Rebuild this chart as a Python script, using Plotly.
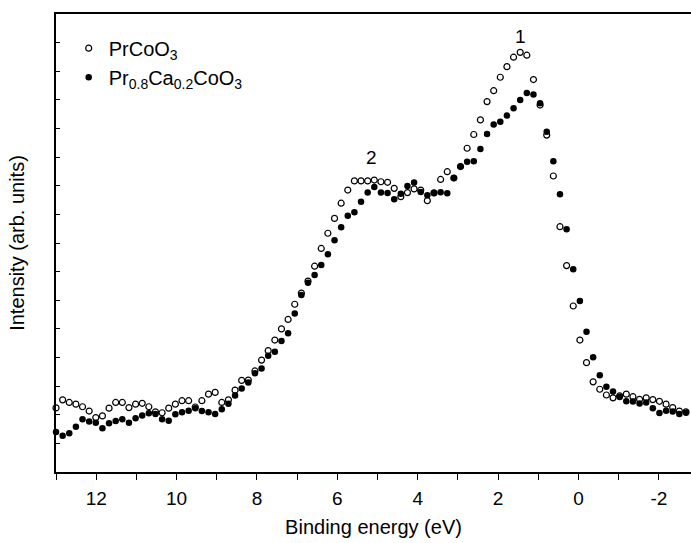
import plotly.graph_objects as go

# Binding energy grid (eV)
energy = [13.000, 12.835, 12.670, 12.505, 12.340, 12.175, 12.010, 11.845, 11.680, 11.515,
          11.350, 11.185, 11.020, 10.855, 10.690, 10.525, 10.360, 10.195, 10.030, 9.865,
          9.700, 9.535, 9.370, 9.205, 9.040, 8.875, 8.710, 8.545, 8.380, 8.215,
          8.050, 7.885, 7.720, 7.555, 7.390, 7.225, 7.060, 6.895, 6.730, 6.565,
          6.400, 6.235, 6.070, 5.905, 5.740, 5.575, 5.410, 5.245, 5.080, 4.915,
          4.750, 4.585, 4.420, 4.255, 4.090, 3.925, 3.760, 3.595, 3.430, 3.265,
          3.100, 2.935, 2.770, 2.605, 2.440, 2.275, 2.110, 1.945, 1.780, 1.615,
          1.450, 1.285, 1.120, 0.955, 0.790, 0.625, 0.460, 0.295, 0.130, -0.035,
          -0.200, -0.365, -0.530, -0.695, -0.860, -1.025, -1.190, -1.355, -1.520, -1.685,
          -1.850, -2.015, -2.180, -2.345, -2.510, -2.675]

# PrCoO3 (open circles), arb. units
prcoo3 = [2.24, 2.52, 2.43, 2.37, 2.28, 2.13, 1.90, 1.96, 2.23, 2.43,
          2.43, 2.25, 2.37, 2.40, 2.28, 2.10, 2.07, 2.23, 2.37, 2.49,
          2.49, 2.27, 2.49, 2.72, 2.78, 2.43, 2.52, 2.86, 3.20, 3.21,
          3.53, 3.91, 4.24, 4.61, 5.00, 5.33, 5.86, 6.25, 6.67, 7.19,
          7.81, 8.34, 8.86, 9.39, 9.85, 10.17, 10.17, 10.17, 10.20, 10.14,
          10.12, 9.91, 9.62, 9.76, 9.89, 9.85, 9.48, 9.75, 10.22, 10.49,
          10.27, 10.67, 11.31, 11.79, 12.30, 12.94, 13.32, 13.79, 14.16, 14.49,
          14.66, 14.56, 13.71, 12.82, 11.77, 10.34, 8.57, 7.21, 5.80, 4.61,
          3.82, 3.15, 2.89, 2.69, 2.59, 2.66, 2.72, 2.63, 2.54, 2.59,
          2.53, 2.47, 2.37, 2.25, 2.13, 2.10]

# Pr0.8Ca0.2CoO3 (filled circles), arb. units
prcacoo3 = [1.40, 1.27, 1.35, 1.58, 1.84, 1.76, 1.72, 1.53, 1.70, 1.78,
            1.84, 1.72, 1.88, 1.97, 2.05, 2.03, 1.84, 1.79, 2.02, 2.09,
            2.14, 2.23, 2.13, 2.09, 2.03, 2.19, 2.38, 2.67, 2.92, 3.13,
            3.45, 3.62, 4.06, 4.20, 4.58, 4.85, 5.54, 6.18, 6.61, 6.88,
            7.23, 7.61, 8.10, 8.55, 8.95, 9.07, 9.44, 9.76, 9.96, 9.76,
            9.75, 9.53, 9.72, 9.99, 10.11, 9.78, 9.67, 9.75, 9.77, 9.74,
            10.27, 10.67, 10.84, 10.86, 11.28, 11.81, 12.14, 12.24, 12.45, 12.71,
            13.00, 13.24, 13.19, 12.88, 11.89, 10.86, 9.70, 8.48, 7.08, 5.97,
            4.90, 4.01, 3.38, 2.98, 2.81, 2.62, 2.47, 2.46, 2.39, 2.43,
            2.23, 2.06, 2.14, 2.11, 2.03, 2.07]

x_tick_vals = [12, 10, 8, 6, 4, 2, 0, -2]
x_tick_text = ["12", "10", "8", "6", "4", "2", "0", "-2"]
x_minor_vals = [13, 11, 9, 7, 5, 3, 1, -1]

peak_labels = ["1", "2"]
peak_x = [1.45, 5.15]
peak_y = [15.2, 11.0]

FONT = "Liberation Sans, Arial, Helvetica, sans-serif"

fig = go.Figure()
fig.add_trace(go.Scatter(
    x=energy, y=prcoo3, mode="markers", name="PrCoO<sub>3</sub>",
    marker=dict(symbol="circle-open", size=6, color="black", line=dict(width=1.2, color="black")),
    cliponaxis=False,
))
fig.add_trace(go.Scatter(
    x=energy, y=prcacoo3, mode="markers", name="Pr<sub>0.8</sub>Ca<sub>0.2</sub>CoO<sub>3</sub>",
    marker=dict(symbol="circle", size=6.5, color="black"),
    cliponaxis=False,
))

for t, px, py in zip(peak_labels, peak_x, peak_y):
    fig.add_annotation(x=px, y=py, text=t, showarrow=False,
                       font=dict(family=FONT, size=19, color="black"))

fig.update_layout(
    width=691, height=543,
    margin=dict(l=56, r=0, t=14, b=71),
    paper_bgcolor="white", plot_bgcolor="white",
    font=dict(family=FONT, color="black", size=19),
    showlegend=True,
    legend=dict(x=0.02, y=0.968, xanchor="left", yanchor="top",
                bgcolor="rgba(0,0,0,0)", font=dict(size=20, family=FONT)),
    xaxis=dict(
        range=[13.0, -2.8], showgrid=False, zeroline=False,
        showline=True, linecolor="black", linewidth=1.5, mirror=True,
        ticks="outside", ticklen=6, tickwidth=1.2, tickcolor="black",
        tickmode="array", tickvals=x_tick_vals, ticktext=x_tick_text,
        ticklabelstandoff=2,
        minor=dict(tickmode="array", tickvals=x_minor_vals, ticks="outside",
                   ticklen=6, tickwidth=1.2, tickcolor="black", showgrid=False),
        title=dict(text="Binding energy (eV)", font=dict(size=20), standoff=12),
        tickfont=dict(size=19),
    ),
    yaxis=dict(
        range=[0, 16], showgrid=False, zeroline=False,
        showline=True, linecolor="black", linewidth=1.5, mirror=False,
        ticks="inside", ticklen=4, tickwidth=1.2, tickcolor="black",
        dtick=1, tick0=0, showticklabels=False,
        title=dict(text="Intensity (arb. units)", font=dict(size=20), standoff=24),
    ),
)

fig.write_html("out.html")
